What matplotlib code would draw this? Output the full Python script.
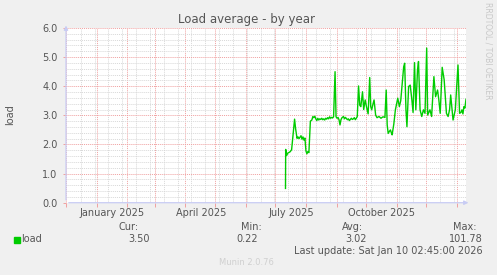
import numpy as np
import pandas as pd
import matplotlib
matplotlib.use("Agg")
import matplotlib.pyplot as plt
import matplotlib.dates as mdates
import matplotlib.transforms as mtransforms

# load values, days counted from 2025-01-01
days = [191.3, 191.5, 192.5, 193.5, 196, 197.5, 200.5, 201.5, 203, 204, 205, 207, 208, 209, 210,
        211, 212, 213, 214, 215, 216.5, 218, 219, 220, 221, 222, 223, 224, 225, 226, 227, 228,
        229, 230, 231, 232, 233, 234, 235, 236, 237, 238, 239, 240, 241.5, 242.5, 243.5, 244.5,
        245.5, 246.5, 247.5, 248.5, 250, 251, 252, 253, 254, 255, 256, 257, 258, 259, 260, 261,
        262, 263, 264, 265.3, 266.5, 267.6, 269.3, 270.5, 272, 273.3, 275, 276.6, 277.6, 278.6,
        280, 281, 282.6, 284, 286, 288, 290, 292, 293.3, 294.3, 295.3, 296.5, 297.6, 298.5, 299.3,
        301, 302.6, 305, 306.6, 308, 309.3, 311, 312, 313.3, 314.3, 316, 317.6, 319.3, 320.5, 322,
        323.3, 325, 326, 327.6, 329.3, 331, 332.6, 334.3, 335.3, 336.5, 337.6, 339.3, 341.6, 343.3,
        345.3, 346.6, 348, 350, 352, 354.3, 356, 357.5, 358.6, 361, 363.3, 366, 367.6, 369, 370,
        371, 372, 373, 374.1]
load = [0.49, 1.83, 1.62, 1.70, 1.75, 1.82, 2.87, 2.55, 2.21, 2.26, 2.20, 2.30, 2.18, 2.26, 2.15,
        2.22, 1.78, 1.68, 1.76, 1.72, 2.80, 2.84, 2.96, 2.92, 2.97, 2.88, 2.82, 2.90, 2.84, 2.88,
        2.86, 2.90, 2.85, 2.88, 2.84, 2.90, 2.87, 2.92, 2.88, 2.95, 2.90, 2.93, 2.91, 2.95, 4.50,
        2.95, 2.90, 2.93, 2.85, 2.67, 2.85, 2.92, 2.96, 2.88, 2.93, 2.89, 2.85, 2.88, 2.82, 2.86,
        2.90, 2.86, 2.88, 2.92, 2.85, 2.90, 2.96, 4.01, 3.35, 3.30, 3.81, 3.20, 3.53, 3.30, 3.05,
        4.30, 3.30, 3.19, 3.40, 3.53, 3.01, 2.92, 2.96, 2.90, 2.95, 2.93, 3.87, 2.67, 2.38, 2.45,
        2.50, 2.40, 2.33, 2.70, 3.19, 3.59, 3.30, 3.50, 3.99, 4.67, 4.79, 3.19, 2.61, 3.99, 4.04,
        3.53, 3.10, 4.81, 3.19, 4.56, 4.85, 3.19, 2.96, 3.19, 3.07, 5.31, 3.01, 3.10, 3.19, 2.96,
        4.33, 3.64, 3.87, 3.53, 3.07, 4.65, 4.22, 3.07, 2.96, 3.20, 3.70, 2.84, 3.19, 4.73, 3.07,
        3.10, 3.19, 3.05, 3.30, 3.25, 3.55]

month_labels = ["January 2025", "April 2025", "July 2025", "October 2025"]
label_dates = ["2025-01-17", "2025-04-17", "2025-07-17", "2025-10-17"]
y_ticks = [0, 1, 2, 3, 4, 5, 6]

legend_cols = ["Cur:", "Min:", "Avg:", "Max:"]
legend_vals = ["3.50", "0.22", "3.02", "101.78"]

end = pd.Timestamp("2026-01-10 02:45")
start = end - pd.Timedelta(days=400)
t = pd.Timestamp("2025-01-01") + pd.to_timedelta(days, unit="D")

W, H = 497, 275
fig = plt.figure(figsize=(W / 100, H / 100), dpi=100, facecolor="#f0f0f0")
ax = fig.add_axes([66 / W, 1 - 202.7 / H, 400 / W, (202.7 - 28) / H])
ax.set_facecolor("white")

ax.set_xlim(start, end)
ax.set_ylim(0, 6)

# grid: months (red) and every two weeks (grey); y major 1.0, minor 0.2
months = pd.date_range("2024-12-01", "2026-01-01", freq="MS")
weeks = pd.date_range("2024-12-16", "2026-01-10", freq="14D")
ax.set_xticks(months)
ax.set_xticks(weeks, minor=True)
ax.set_yticks(y_ticks)
ax.set_yticks(np.arange(0, 6.01, 0.2), minor=True)
ax.grid(which="minor", color="#d8d8d8", linestyle=(0, (1, 1)), linewidth=0.7)
ax.grid(which="major", color="#f0a0a0", linestyle=(0, (1, 1)), linewidth=0.7)
ax.set_axisbelow(True)

ax.set_xticklabels([])
ax.set_yticklabels(["%.1f" % v for v in y_ticks])
ax.tick_params(axis="x", which="major", length=3, color="#f0a0a0", width=0.7)
ax.tick_params(axis="x", which="minor", length=0)
ax.tick_params(axis="y", which="major", length=2, color="#f0a0a0", width=0.7,
               labelsize=7, labelcolor="#555555", pad=4)
ax.tick_params(axis="y", which="minor", length=0)

for s in ax.spines.values():
    s.set_visible(False)

ax.plot(t, load, color="#00cc00", linewidth=1.0)

# axes with arrows
axis_col = "#c8ccf4"
ax.annotate("", xy=(1.013, 0), xytext=(0, 0), xycoords="axes fraction",
            arrowprops=dict(arrowstyle="-|>", color=axis_col, lw=0.9, mutation_scale=6))
ax.annotate("", xy=(0, 1.03), xytext=(0, 0), xycoords="axes fraction",
            arrowprops=dict(arrowstyle="-|>", color=axis_col, lw=0.9, mutation_scale=6))

trans = mtransforms.blended_transform_factory(ax.transData, fig.transFigure)
for d, lab in zip(label_dates, month_labels):
    ax.text(pd.Timestamp(d), 1 - 212.7 / H, lab, transform=trans, ha="center", va="center",
            fontsize=7, color="#555555")

txt = dict(color="#555555", fontsize=7)
fig.text(246 / W, 1 - 20 / H, "Load average - by year", ha="center", va="center",
         fontsize=8.5, color="#555555")
fig.text(10 / W, 1 - 115 / H, "load", rotation=90, ha="center", va="center", **txt)
fig.text(488 / W, 1 - 51 / H, "RRDTOOL / TOBI OETIKER", rotation=270, ha="center",
         va="center", fontsize=5.5, color="#c8c8c8")
fig.text(246 / W, 1 - 262.7 / H, "Munin 2.0.76", ha="center", va="center",
         fontsize=6, color="#d0d0d0")

# legend
fig.patches.append(plt.Rectangle((14 / W, 1 - 243.3 / H), 6 / W, 6 / H,
                                 transform=fig.transFigure, color="#00cc00"))
fig.text(20.7 / W, 1 - 239 / H, "load", ha="left", va="center", **txt)
for x, c, v in zip([139, 262, 362.7, 477], legend_cols, legend_vals):
    fig.text(x / W, 1 - 227.3 / H, c, ha="right", va="center", **txt)
for x, v in zip([150, 258, 367.3, 482.3], legend_vals):
    fig.text(x / W, 1 - 239 / H, v, ha="right", va="center", **txt)
fig.text(482.3 / W, 1 - 250.7 / H, "Last update: Sat Jan 10 02:45:00 2026", ha="right",
         va="center", **txt)

fig.savefig("out.png", dpi=100, facecolor=fig.get_facecolor())
